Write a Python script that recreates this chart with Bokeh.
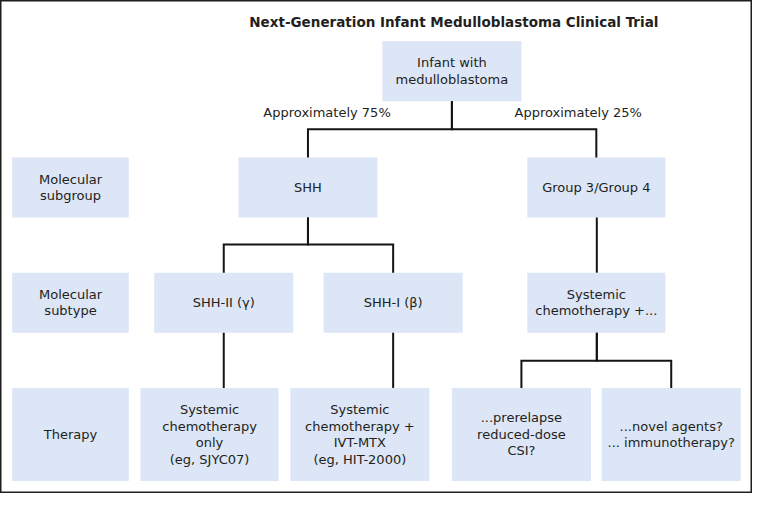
from bokeh.plotting import figure
from bokeh.models import Range1d, ColumnDataSource
from bokeh.core.properties import value
from bokeh.embed import file_html
from bokeh.resources import INLINE

# ---------------- content (texts of the flowchart) ----------------
title = "Next-Generation Infant Medulloblastoma Clinical Trial"
root_label = "Infant with\nmedulloblastoma"
branch_shares = ["Approximately 75%", "Approximately 25%"]
row_labels = ["Molecular\nsubgroup", "Molecular\nsubtype", "Therapy"]
subgroups = ["SHH", "Group 3/Group 4"]
subtypes = ["SHH-II (\u03b3)", "SHH-I (\u03b2)", "Systemic\nchemotherapy +..."]
therapies = [
    "Systemic\nchemotherapy\nonly\n(eg, SJYC07)",
    "Systemic\nchemotherapy +\nIVT-MTX\n(eg, HIT-2000)",
    "...prerelapse\nreduced-dose\nCSI?",
    "...novel agents?\n... immunotherapy?",
]

# ---------------- layout (reference pixel frame 768 x 509) ----------------
W, H = 768, 509
rows_y = [(42, 104), (162, 224), (281, 343), (400, 496)]   # top, bottom of each row
label_x = (12, 131)
root_x = (390, 532)
subgroup_x = [(243, 385), (538, 679)]
subtype_x = [(157, 299), (330, 472), (538, 679)]
therapy_x = [(143, 284), (296, 438), (461, 603), (614, 756)]

BOX = "#dce6f6"
INK = "#231f20"
LINE = "#141414"
FONT = "DejaVu Sans"

p = figure(width=752, height=493, x_range=Range1d(0, W), y_range=Range1d(H, 0),
           toolbar_location=None, output_backend="svg", min_border=0,
           background_fill_color="white", border_fill_color="white",
           outline_line_color="#1e1e1e", outline_line_width=2)
p.axis.visible = False
p.grid.visible = False

boxes = {"left": [], "right": [], "top": [], "bottom": []}
texts = {"x": [], "y": [], "text": []}

def add_box(xr, yr, label):
    boxes["left"].append(xr[0]); boxes["right"].append(xr[1])
    boxes["top"].append(yr[0]); boxes["bottom"].append(yr[1])
    texts["x"].append((xr[0] + xr[1]) / 2)
    texts["y"].append((yr[0] + yr[1]) / 2)
    texts["text"].append(label)

add_box(root_x, rows_y[0], root_label)
for lab, r in zip(row_labels, rows_y[1:]):
    add_box(label_x, r, lab)
for lab, xr in zip(subgroups, subgroup_x):
    add_box(xr, rows_y[1], lab)
for lab, xr in zip(subtypes, subtype_x):
    add_box(xr, rows_y[2], lab)
for lab, xr in zip(therapies, therapy_x):
    add_box(xr, rows_y[3], lab)

p.quad(source=ColumnDataSource(boxes), left="left", right="right", top="top",
       bottom="bottom", fill_color=BOX, line_color=None)
p.text(source=ColumnDataSource(texts), x="x", y="y", text="text",
       text_align="center", text_baseline="middle", text_color=INK,
       text_font=value(FONT), text_font_size="13px", text_line_height=1.1)

# ---------------- connectors ----------------
paths_x, paths_y = [], []
def connect(px, py, cx, cy, ymid):
    paths_x.append([px, px, cx, cx])
    paths_y.append([py, ymid, ymid, cy])

mid = lambda xr: (xr[0] + xr[1]) / 2
# root -> subgroups
for xr in subgroup_x:
    connect(461, rows_y[0][1], mid(xr), rows_y[1][0], 133)
# SHH -> SHH subtypes
for xr in subtype_x[:2]:
    connect(mid(subgroup_x[0]), rows_y[1][1], mid(xr), rows_y[2][0], 252)
# Group 3/4 -> systemic chemo
connect(609, rows_y[1][1], 609, rows_y[2][0], 281)
# SHH subtypes -> therapies
connect(228, rows_y[2][1], 228, rows_y[3][0], 372)
connect(401, rows_y[2][1], 401, rows_y[3][0], 372)
# systemic chemo -> two options
connect(609, rows_y[2][1], 532, rows_y[3][0], 372)
connect(609, rows_y[2][1], 685, rows_y[3][0], 372)

p.multi_line(paths_x, paths_y, line_color=LINE, line_width=2, line_join="miter")

# ---------------- title and branch shares ----------------
p.text(x=[463], y=[22], text=[title], text_align="center", text_baseline="middle",
       text_color=INK, text_font=value(FONT), text_font_style="bold",
       text_font_size="13.5px")
p.text(x=[333.5, 590], y=[116, 116], text=branch_shares, text_align="center",
       text_baseline="middle", text_color=INK, text_font=value(FONT),
       text_font_size="13px")

open("out.html", "w").write(file_html(p, INLINE))
